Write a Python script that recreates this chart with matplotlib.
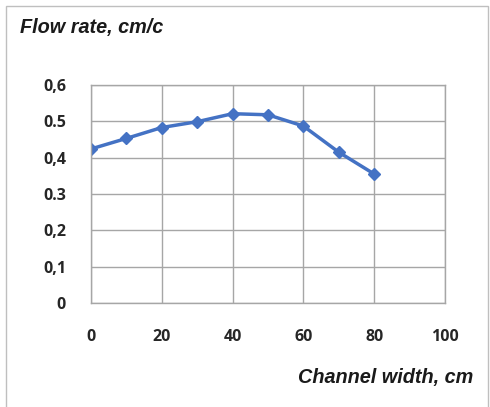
import matplotlib
matplotlib.use('Agg')
from matplotlib import pyplot as plt
from matplotlib.patches import Rectangle

# data
width_cm = [0, 10, 20, 30, 40, 50, 60, 70, 80]
flow_rate = [0.424, 0.453, 0.483, 0.499, 0.521, 0.518, 0.487, 0.415, 0.355]
y_ticks = [0, 0.1, 0.2, 0.3, 0.4, 0.5, 0.6]
y_labels = ['0', '0,1', '0,2', '0.3', '0,4', '0.5', '0,6']
x_ticks = [0, 20, 40, 60, 80, 100]

plt.rcParams['font.family'] = ['Liberation Sans', 'DejaVu Sans']

W, H = 490, 407
fig = plt.figure(figsize=(W / 100, H / 100), dpi=100)
fig.patch.set_facecolor('white')

# outer chart border
fig.patches.append(Rectangle((6 / W, -0.05), (488 - 6) / W, (H - 6) / H + 0.05,
                             transform=fig.transFigure, fill=False,
                             edgecolor='#bfbfbf', linewidth=1))

ax = fig.add_axes([91 / W, 1 - 303 / H, (445 - 91) / W, (303 - 85) / H])
ax.plot(width_cm, flow_rate, color='#4472C4', linewidth=2.5, marker='D',
        markersize=6.5, markeredgecolor='#4472C4', markerfacecolor='#4472C4',
        solid_joinstyle='round')

ax.set_xlim(0, 100)
ax.set_ylim(0, 0.6)
ax.set_xticks(x_ticks)
ax.set_yticks(y_ticks)
ax.set_yticklabels(y_labels)
ax.grid(True, color='#a6a6a6', linewidth=1)
ax.set_axisbelow(True)
for s in ax.spines.values():
    s.set_color('#a6a6a6')
    s.set_linewidth(1)
ax.tick_params(length=0, labelsize=11.5, colors='#262626')
ax.tick_params(axis='y', pad=18)
ax.tick_params(axis='x', pad=19)
for lbl in ax.get_xticklabels() + ax.get_yticklabels():
    lbl.set_fontweight('bold')
    lbl.set_family(['Open Sans', 'DejaVu Sans'])

fig.text(20 / W, 1 - 28 / H, 'Flow rate, cm/c', fontsize=14.3, fontweight='bold',
         fontstyle='italic', color='#1a1a1a', ha='left', va='center')
fig.text(473 / W, 1 - 377 / H, 'Channel width, cm', fontsize=14.3, fontweight='bold',
         fontstyle='italic', color='#1a1a1a', ha='right', va='center')

fig.savefig('out.png', dpi=100)
